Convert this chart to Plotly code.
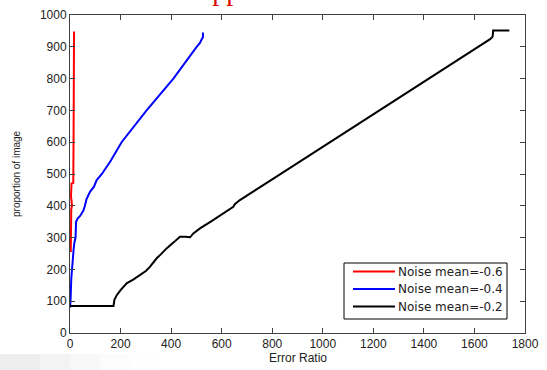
import plotly.graph_objects as go

# ---- data ----
red_x = [3, 4, 3, 6, 5, 8, 4, 6, 13, 14, 15, 16]
red_y = [255, 300, 330, 350, 390, 400, 430, 470, 472, 600, 800, 948]

blue_x = [0, 2, 5, 9, 14, 17, 22, 24, 30, 40, 53, 59, 65, 79, 95, 105, 126, 160, 204, 303, 409, 501, 514, 522, 526, 526]
blue_y = [80, 100, 170, 230, 260, 283, 300, 350, 360, 368, 385, 400, 420, 444, 460, 480, 500, 540, 600, 700, 800, 900, 912, 925, 930, 945]

black_x = [0, 30, 60, 90, 120, 150, 172, 176, 185, 200, 224, 250, 277, 300, 316, 343, 360, 382, 410, 435, 455, 475, 488, 514, 560, 600, 646, 652, 672, 800, 1000, 1200, 1292, 1400, 1600, 1662, 1672, 1674, 1700, 1738]
black_y = [85, 85, 84, 85, 85, 85, 85, 105, 119, 135, 156, 168, 182, 195, 208, 235, 248, 266, 285, 303, 303, 301, 313, 329, 352, 373, 397, 405, 418, 483, 585, 688, 735, 790, 892, 924, 932, 951, 951, 951]

series_names = ["Noise mean=-0.6", "Noise mean=-0.4", "Noise mean=-0.2"]
series_colors = ["#ff0000", "#0000ff", "#000000"]
x_ticks = [0, 200, 400, 600, 800, 1000, 1200, 1400, 1600, 1800]
y_ticks = [0, 100, 200, 300, 400, 500, 600, 700, 800, 900, 1000]

W, H = 547, 370
ML, MR, MT, MB = 70, 22, 15, 37
PW, PH = W - ML - MR, H - MT - MB


def px_x(px):
    return (px - ML) / PW


def px_y(py):
    return (H - MB - py) / PH


fig = go.Figure()
for xs, ys, name, col in zip([red_x, blue_x, black_x], [red_y, blue_y, black_y], series_names, series_colors):
    fig.add_trace(go.Scatter(x=xs, y=ys, mode="lines", name=name, showlegend=False,
                             line=dict(color=col, width=2)))

axis_common = dict(showgrid=False, zeroline=False, showline=True, linecolor="#404040",
                   linewidth=1, mirror="allticks", ticks="inside", ticklen=5, automargin=False,
                   tickcolor="#404040", tickfont=dict(family="Liberation Sans", size=12, color="#222222"))

fig.update_xaxes(range=[0, 1800], tickvals=x_ticks, ticktext=[str(v) for v in x_ticks], **axis_common)
fig.update_yaxes(range=[0, 1000], tickvals=y_ticks, ticktext=[str(v) for v in y_ticks], **axis_common)

fig.update_layout(
    width=W, height=H,
    margin=dict(l=ML, r=MR, t=MT, b=MB, autoexpand=False),
    paper_bgcolor="white", plot_bgcolor="white",
    showlegend=False,
)

# legend box (drawn in paper coordinates)
fig.add_shape(type="rect", xref="paper", yref="paper",
              x0=px_x(344), x1=px_x(507), y0=px_y(319), y1=px_y(263),
              fillcolor="white", line=dict(color="#000000", width=1), layer="above")
for i, (name, col) in enumerate(zip(series_names, series_colors)):
    yy = 271.5 + i * 17.5
    fig.add_shape(type="line", xref="paper", yref="paper",
                  x0=px_x(353), x1=px_x(395), y0=px_y(yy), y1=px_y(yy),
                  line=dict(color=col, width=2), layer="above")
    fig.add_annotation(text=name, xref="paper", yref="paper", x=px_x(396), y=px_y(yy),
                       xanchor="left", yanchor="middle", showarrow=False,
                       font=dict(family="DejaVu Sans", size=12, color="#222222"))

# axis titles
fig.add_annotation(text="Error Ratio", xref="paper", yref="paper", x=0.5, y=px_y(358),
                   xanchor="center", yanchor="middle", showarrow=False,
                   font=dict(family="Liberation Sans", size=12, color="#222222"))
fig.add_annotation(text="proportion of image", xref="paper", yref="paper", x=px_x(16), y=0.5,
                   xanchor="center", yanchor="middle", textangle=-90, showarrow=False,
                   font=dict(family="Liberation Sans", size=10, color="#222222"))

# cropped red title fragment at the very top (only its lower part is visible in the reference)
fig.add_annotation(text="Approach", xref="paper", yref="paper", x=px_x(190), y=px_y(8),
                   xanchor="left", yanchor="bottom", showarrow=False,
                   font=dict(family="Liberation Serif", size=28, color="#e00000"))

# faint grey smear at the bottom-left (page shadow)
for i, op in enumerate([0.05, 0.04, 0.03, 0.02, 0.01]):
    fig.add_shape(type="rect", xref="paper", yref="paper",
                  x0=px_x(0), x1=px_x(40 + i * 30),
                  y0=px_y(H), y1=px_y(354),
                  fillcolor="#808080", opacity=op, line=dict(width=0), layer="below")

fig.write_html("out.html", config={"displayModeBar": False},
               post_script="document.body.style.margin='0';document.body.style.overflow='hidden';")
